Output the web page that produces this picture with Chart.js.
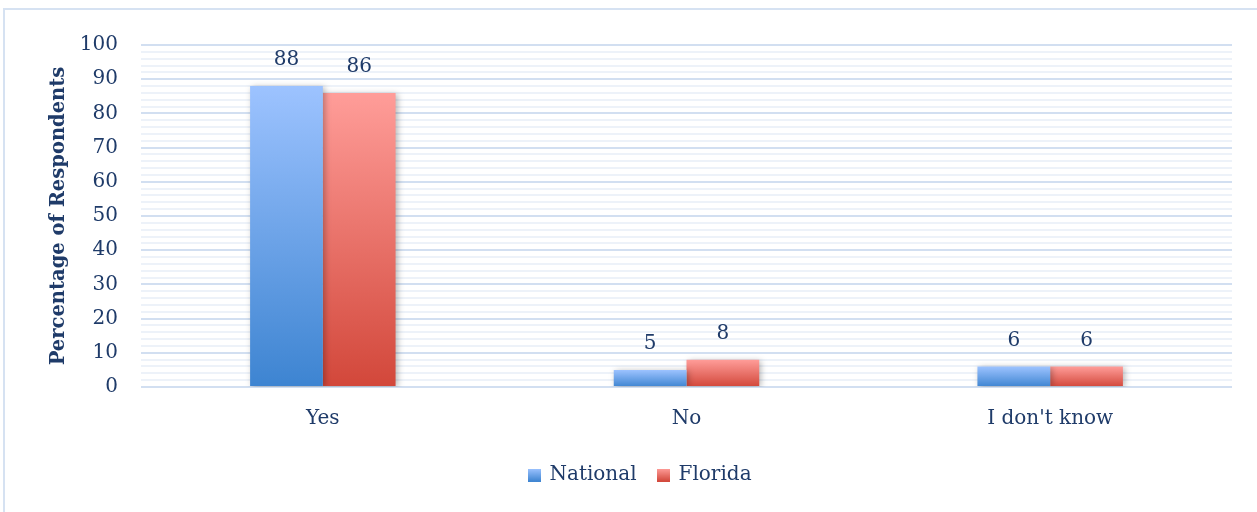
<!DOCTYPE html>
<html>
<head>
<meta charset="utf-8">
<script src="https://cdn.jsdelivr.net/npm/chart.js@4.4.1/dist/chart.umd.min.js"></script>
<style>
  html, body { margin: 0; padding: 0; background: #ffffff; overflow: hidden; }
  #box {
    position: absolute; left: 3px; top: 8px; width: 1262px; height: 512px;
    border-left: 2px solid #d6e2f2; border-top: 2px solid #d6e2f2;
  }
  canvas { display: block; }
</style>
</head>
<body>
<div id="box"><canvas id="chart" width="1252" height="502"></canvas></div>
<script>
// Survey answers, percentage of respondents
const categories = ['Yes', 'No', "I don't know"];
const national = [88, 5, 6];
const florida = [86, 8, 6];
const seriesNames = ['National', 'Florida'];

const TEXT = '#1f3b69';
const FONT = 'DejaVu Serif';

// Vertical gradient running from the top of each bar down to the zero line
function barFill(topColor, bottomColor) {
  return (ctx) => {
    const chart = ctx.chart;
    const y = chart.scales.y;
    if (!y || typeof ctx.raw !== 'number') return topColor;
    const y0 = y.getPixelForValue(0);
    const y1 = y.getPixelForValue(ctx.raw);
    if (!isFinite(y0) || !isFinite(y1) || y0 === y1) return topColor;
    const g = chart.ctx.createLinearGradient(0, y1, 0, y0);
    g.addColorStop(0, topColor);
    g.addColorStop(1, bottomColor);
    return g;
  };
}

// Small gradient swatch used as the legend marker
function swatch(topColor, bottomColor) {
  const c = document.createElement('canvas');
  c.width = 13; c.height = 13;
  const x = c.getContext('2d');
  const g = x.createLinearGradient(0, 0, 0, 13);
  g.addColorStop(0, topColor);
  g.addColorStop(1, bottomColor);
  x.fillStyle = g;
  x.fillRect(0, 0, 13, 13);
  return c;
}

const blueTop = '#9dc3ff', blueBottom = '#3d84d1';
const redTop = '#ff9d99', redBottom = '#d2473a';

// Soft drop shadow behind the bars, then the value above each bar
const barDecor = {
  id: 'barDecor',
  afterLayout(chart) {
    // the legend sits a little right of the canvas centre
    const lg = chart.legend;
    if (lg) { lg.left += 22; lg.right += 22; }
  },
  beforeDatasetsDraw(chart) {
    const ctx = chart.ctx;
    ctx.save();
    ctx.shadowColor = 'rgba(0,0,0,0.28)';
    ctx.shadowBlur = 6;
    ctx.shadowOffsetX = 2;
    ctx.shadowOffsetY = 1;
  },
  afterDatasetsDraw(chart) {
    const ctx = chart.ctx;
    ctx.restore();
    ctx.save();
    ctx.fillStyle = TEXT;
    ctx.font = '20px "' + FONT + '"';
    ctx.textAlign = 'center';
    ctx.textBaseline = 'middle';
    chart.data.datasets.forEach((ds, i) => {
      chart.getDatasetMeta(i).data.forEach((bar, j) => {
        ctx.fillText(String(ds.data[j]), bar.x, bar.y - 26);
      });
    });
    ctx.restore();
  }
};

new Chart(document.getElementById('chart'), {
  type: 'bar',
  data: {
    labels: categories,
    datasets: [
      {
        label: seriesNames[0],
        data: national,
        backgroundColor: barFill(blueTop, blueBottom),
        pointStyle: swatch(blueTop, blueBottom)
      },
      {
        label: seriesNames[1],
        data: florida,
        backgroundColor: barFill(redTop, redBottom),
        pointStyle: swatch(redTop, redBottom)
      }
    ]
  },
  options: {
    responsive: false,
    animation: false,
    events: [],
    categoryPercentage: 0.4,
    barPercentage: 1.0,
    layout: { padding: { top: 22, right: 25, bottom: 17, left: 0 } },
    plugins: {
      tooltip: { enabled: false },
      legend: {
        position: 'bottom',
        labels: {
          usePointStyle: true,
          boxWidth: 10,
          boxHeight: 13,
          padding: 22,
          color: TEXT,
          font: { family: FONT, size: 20 }
        }
      }
    },
    scales: {
      x: {
        grid: { display: false },
        border: { display: false },
        ticks: {
          color: TEXT,
          padding: 12,
          font: { family: FONT, size: 20 }
        },
        afterFit(scale) { scale.height = 56; }
      },
      y: {
        min: 0,
        max: 100,
        border: { display: false },
        grid: {
          drawTicks: false,
          lineWidth: 2,
          color: (ctx) => (ctx.tick && ctx.tick.value % 10 === 0) ? '#d2dff1' : '#edf2f9'
        },
        ticks: {
          stepSize: 2,
          autoSkip: false,
          padding: 23,
          color: TEXT,
          font: { family: FONT, size: 20 },
          callback: (v) => (v % 10 === 0 ? String(v) : '')
        },
        title: {
          display: true,
          text: 'Percentage of Respondents',
          color: TEXT,
          font: { family: FONT, size: 19.5, weight: 'bold' },
          padding: { top: 42, bottom: 0 }
        },
        afterFit(scale) { scale.width = 136; }
      }
    }
  },
  plugins: [barDecor]
});
</script>
</body>
</html>
